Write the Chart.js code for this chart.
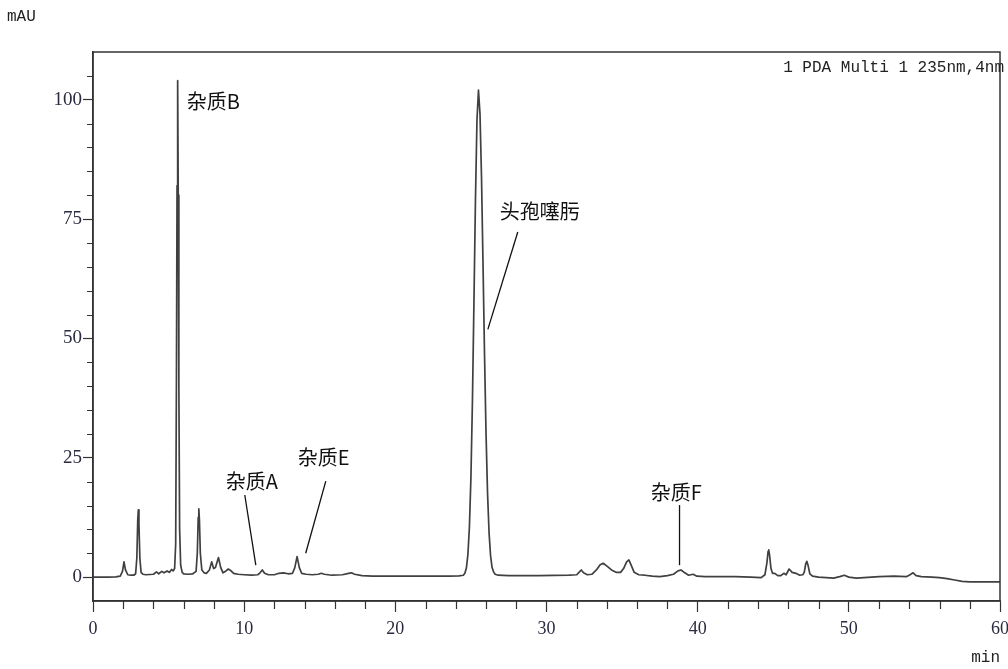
<!DOCTYPE html>
<html>
<head>
<meta charset="utf-8">
<script src="https://cdn.jsdelivr.net/npm/chart.js@4.4.1/dist/chart.umd.min.js"></script>
<style>
  body { margin: 0; background: #fff; }
  #wrap { width: 1008px; height: 669px; }
</style>
</head>
<body>
<div id="wrap"><canvas id="chromatogram" width="1008" height="669"></canvas></div>
<script>
// retention time (min) and detector signal (mAU)
const retentionTimes = [
    0, 0.5, 1.0, 1.5, 1.8,
    1.95, 2.05, 2.15, 2.3, 2.5, 2.7,
    2.82, 2.9, 2.96, 3.0, 3.04, 3.1, 3.18, 3.3, 3.5,
    4.0, 4.2, 4.35, 4.55, 4.7, 4.9, 5.05, 5.2, 5.3, 5.4,
    5.47, 5.52, 5.56, 5.6, 5.64, 5.68, 5.73, 5.8, 5.9, 6.0, 6.3, 6.6,
    6.82, 6.9, 6.96, 7.0, 7.04, 7.1, 7.2, 7.35, 7.5,
    7.7, 7.85, 7.98, 8.1, 8.3, 8.45, 8.6, 8.8, 8.95, 9.1, 9.3, 9.6,
    10.0, 10.5, 10.9, 11.05, 11.2, 11.35, 11.6, 12.0, 12.3, 12.6, 12.9,
    13.2, 13.35, 13.5, 13.65, 13.8, 14.1, 14.5, 14.9, 15.1, 15.3, 15.8,
    16.5, 16.9, 17.1, 17.3, 17.8, 18.5, 19.5, 20.5, 21.5, 22.5, 23.5, 24.2,
    24.5, 24.6, 24.7, 24.8, 24.9, 25.0, 25.1, 25.2, 25.3, 25.4, 25.5,
    25.6, 25.7, 25.8, 25.9, 26.0, 26.1, 26.2, 26.3, 26.4, 26.5, 26.6, 26.8,
    27.5, 28.5, 29.5, 30.5, 31.5, 32.0, 32.15, 32.3, 32.45, 32.7,
    33.0, 33.3, 33.55, 33.75, 34.0, 34.3, 34.6, 34.9,
    35.1, 35.3, 35.45, 35.6, 35.8, 36.1, 36.5, 37.0, 37.5,
    38.0, 38.4, 38.7, 38.9, 39.15, 39.4, 39.7, 39.95, 40.5, 41.5, 42.5, 43.5, 44.2,
    44.45, 44.58, 44.66, 44.7, 44.76, 44.85, 44.95, 45.1, 45.3, 45.5, 45.7, 45.85,
    46.05, 46.25, 46.5, 46.75, 46.95, 47.05, 47.15, 47.22, 47.3, 47.42, 47.6, 48.0,
    48.5, 49.0, 49.4, 49.7, 50.0, 50.5, 51.0, 52.0, 53.0, 53.8,
    54.05, 54.25, 54.45, 54.8, 55.5, 56.0, 56.5, 57.0, 57.5, 58.0, 59.0, 60.0
];
const absorbance = [
    0, 0, 0, 0.05, 0.2,
    1.2, 3.2, 1.5, 0.5, 0.4, 0.4,
    0.7, 4, 12, 14.1, 11, 4, 1.0, 0.6, 0.5,
    0.6, 1.1, 0.7, 1.2, 0.9, 1.3, 1.0, 1.6, 1.3, 1.8,
    7, 42, 82, 104, 80, 40, 10, 2.5, 1.0, 0.7, 0.6, 0.7,
    1.2, 5, 12.5, 14.3, 12, 5, 1.5, 0.9, 0.8,
    1.5, 3.2, 1.8, 2.0, 4.1, 2.0, 0.9, 1.3, 1.7, 1.4, 0.8, 0.6,
    0.5, 0.4, 0.5, 0.9, 1.5, 0.8, 0.5, 0.5, 0.8, 0.9, 0.7,
    0.8, 2.0, 4.3, 2.0, 0.8, 0.6, 0.5, 0.6, 0.8, 0.6, 0.4,
    0.5, 0.8, 0.9, 0.6, 0.3, 0.2, 0.2, 0.2, 0.2, 0.2, 0.2, 0.25,
    0.4, 0.8, 1.9, 4.7, 10.5, 20.8, 36.8, 57.5, 79, 95.7, 102,
    97.1, 83.9, 65.7, 46.7, 30.1, 17.6, 9.3, 4.5, 2.0, 1.1, 0.6, 0.4,
    0.3, 0.3, 0.3, 0.35, 0.4, 0.5, 1.0, 1.5, 0.9, 0.5,
    0.6, 1.5, 2.6, 2.9, 2.3, 1.5, 1.0, 1.0,
    1.8, 3.2, 3.6, 2.5, 1.0, 0.5, 0.4, 0.2, 0.1,
    0.3, 0.6, 1.3, 1.5, 0.9, 0.4, 0.6, 0.2, 0.1, 0.1, 0.1, 0.0, -0.1,
    0.5, 3, 5.4, 5.7, 4.5, 1.8, 0.8, 0.8, 0.3, 0.3, 0.8, 0.5,
    1.7, 1.0, 0.8, 0.4, 0.5, 1.0, 2.8, 3.3, 2.5, 0.7, 0.2, 0.0,
    -0.1, -0.2, 0.1, 0.4, 0.0, -0.2, -0.1, 0.1, 0.2, 0.1,
    0.5, 0.9, 0.3, 0.1, 0.0, -0.1, -0.3, -0.6, -0.9, -1.0, -1.0, -1.0
];
const xTickLabels = [0, 10, 20, 30, 40, 50, 60];
const yTickLabels = [0, 25, 50, 75, 100];
const peakNames = ['杂质B', '头孢噻肟', '杂质A', '杂质E', '杂质F'];

// where each name sits, in (min, mAU)
const callouts = [
    { name: 0, text: [6.2, 99.7] },
    { name: 1, text: [26.9, 76.6], from: [28.1, 72.3], to: [26.12, 51.9] },
    { name: 2, text: [8.78, 20.1], from: [10.04, 17.2], to: [10.77, 2.5] },
    { name: 3, text: [13.55, 25.1], from: [15.4, 20.1], to: [14.07, 5.0] },
    { name: 4, text: [36.9, 17.8], from: [38.8, 15.1], to: [38.8, 2.5] },
];

const inkColor = '#333';

const chromDecor = {
    id: 'chromDecor',
    afterDraw(chart) {
        const { ctx, chartArea: a, scales: { x, y } } = chart;
        ctx.save();
        // frame
        ctx.strokeStyle = inkColor;
        ctx.lineWidth = 1.5;
        ctx.strokeRect(a.left, a.top, a.right - a.left, a.bottom - a.top);

        // minor ticks
        ctx.lineWidth = 1.2;
        ctx.beginPath();
        for (let v = 5; v < 110; v += 5) {
            if (v % 25 === 0) continue;
            const py = Math.round(y.getPixelForValue(v)) + 0.5;
            ctx.moveTo(a.left - 6, py);
            ctx.lineTo(a.left, py);
        }
        for (let t = 2; t < 60; t += 2) {
            if (t % 10 === 0) continue;
            const px = Math.round(x.getPixelForValue(t)) + 0.5;
            ctx.moveTo(px, a.bottom);
            ctx.lineTo(px, a.bottom + 8);
        }
        ctx.stroke();

        // peak names + leader lines
        ctx.strokeStyle = '#111';
        ctx.lineWidth = 1.3;
        ctx.fillStyle = '#111';
        ctx.font = '20px "Noto Sans CJK SC", sans-serif';
        ctx.textAlign = 'left';
        ctx.textBaseline = 'middle';
        callouts.forEach(c => {
            ctx.fillText(peakNames[c.name], x.getPixelForValue(c.text[0]), y.getPixelForValue(c.text[1]));
            if (c.from) {
                ctx.beginPath();
                ctx.moveTo(x.getPixelForValue(c.from[0]), y.getPixelForValue(c.from[1]));
                ctx.lineTo(x.getPixelForValue(c.to[0]), y.getPixelForValue(c.to[1]));
                ctx.stroke();
            }
        });

        // header and axis units
        ctx.fillStyle = '#222';
        ctx.font = '16px "Liberation Mono", monospace';
        ctx.textAlign = 'right';
        ctx.fillText('1 PDA Multi 1 235nm,4nm', a.right + 4, a.top + 16);
        ctx.textAlign = 'left';
        ctx.fillText('mAU', 7, 17);
        ctx.textAlign = 'right';
        ctx.fillText('min', a.right, 658);
        ctx.restore();
    }
};

const chromData = retentionTimes.map((t, i) => ({ x: t, y: absorbance[i] }));

const chromConfig = {
    type: 'line',
    data: {
        datasets: [
            {
                data: chromData,
                borderColor: '#404040',
                borderWidth: 1.7,
                borderJoinStyle: 'round',
                pointRadius: 0,
                tension: 0,
                fill: false,
            },
        ],
    },
    options: {
        responsive: false,
        animation: false,
        devicePixelRatio: 1,
        layout: { padding: { top: 52, right: 8, left: 0, bottom: 0 } },
        plugins: {
            legend: { display: false },
            tooltip: { enabled: false },
        },
        scales: {
            x: {
                type: 'linear',
                min: 0,
                max: 60,
                afterBuildTicks: s => { s.ticks = xTickLabels.map(v => ({ value: v })); },
                afterFit: s => { s.height = 68; s.paddingLeft = 0; s.paddingRight = 0; },
                grid: { drawOnChartArea: false, tickLength: 11, color: inkColor, tickWidth: 1.2 },
                border: { color: inkColor, width: 1.5 },
                ticks: { color: '#2a2a40', padding: 6, maxRotation: 0, font: { family: '"Liberation Serif", serif', size: 18 } },
            },
            y: {
                min: -5,
                max: 110,
                afterBuildTicks: s => { s.ticks = yTickLabels.map(v => ({ value: v })); },
                afterFit: s => { s.width = 93; s.paddingTop = 0; s.paddingBottom = 0; },
                grid: { drawOnChartArea: false, tickLength: 10, color: inkColor, tickWidth: 1.2 },
                border: { color: inkColor, width: 1.5 },
                ticks: { color: '#2a2a40', padding: 1, font: { family: '"Liberation Serif", serif', size: 19 } },
            },
        },
    },
    plugins: [chromDecor],
};

const chromCtx = document.getElementById('chromatogram');
window.chromChart = new Chart(chromCtx, chromConfig);
</script>
</body>
</html>
